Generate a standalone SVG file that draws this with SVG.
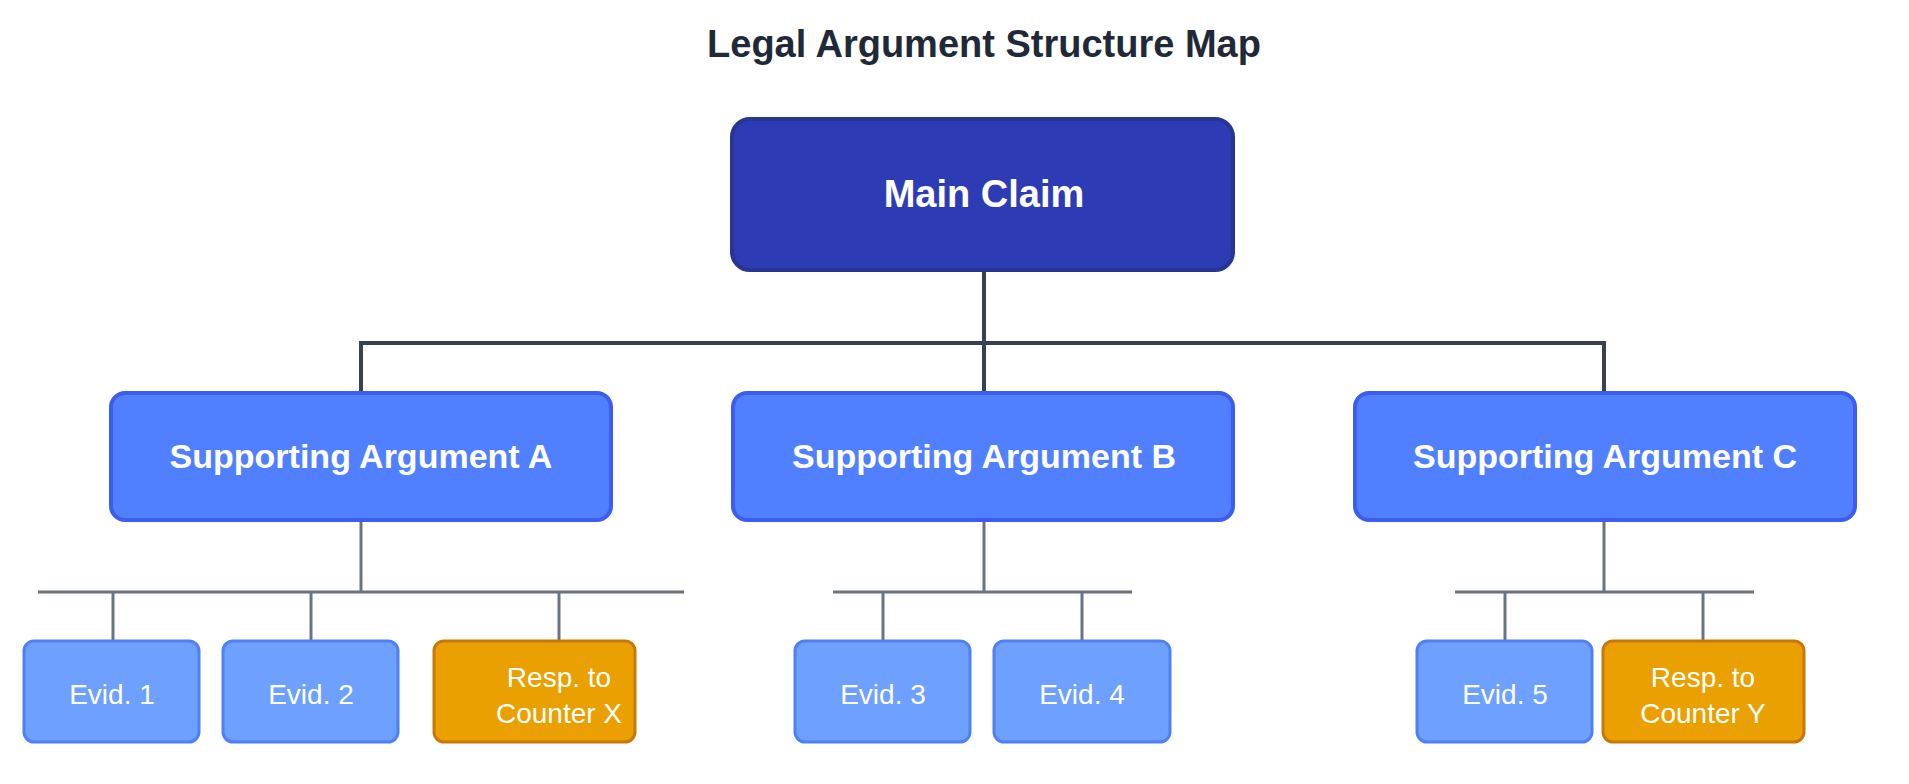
<svg xmlns="http://www.w3.org/2000/svg" width="1909" height="784" viewBox="0 0 1909 784">
<style>
text{font-family:"Liberation Sans",Arial,sans-serif;text-anchor:middle;dominant-baseline:central}
.title{font-size:38px;font-weight:bold;fill:#1f2937}
.main rect{fill:#2d3bb5;stroke:#283593;stroke-width:4}
.main text{font-size:38px;font-weight:bold;fill:#fff}
.sup rect{fill:#5080ff;stroke:#3d5df0;stroke-width:4}
.sup text{font-size:34px;font-weight:bold;fill:#fff}
.ev rect{fill:#6ea0ff;stroke:#4f80f5;stroke-width:3}
.ev text{font-size:28px;fill:#fff}
.rs rect{fill:#eaa000;stroke:#c8780a;stroke-width:3}
.rs text{font-size:28px;fill:#fff}
.c1{stroke:#374151;stroke-width:4;fill:none}
.c2{stroke:#6b7280;stroke-width:3;fill:none}
</style>
<rect width="1909" height="784" fill="#fff"/>
<text class="title" x="984" y="44">Legal Argument Structure Map</text>
<g id="connectors">
<path class="c1" d="M984 270V393M361 393V343H1604V393"/>
<path class="c2" d="M361 520V592M38 592H684M113 592V641M311 592V641M559 592V641"/>
<path class="c2" d="M984 520V592M833 592H1132M883 592V641M1082 592V641"/>
<path class="c2" d="M1604 520V592M1455 592H1754M1505 592V641M1703 592V641"/>
</g>
<g id="main" class="main"><rect x="732" y="119" width="501" height="151" rx="18"/><text x="984" y="194">Main Claim</text></g>
<g id="supA" class="sup"><rect x="111" y="393" width="500" height="127" rx="14"/><text x="361" y="456">Supporting Argument A</text></g>
<g id="supB" class="sup"><rect x="733" y="393" width="500" height="127" rx="14"/><text x="984" y="456">Supporting Argument B</text></g>
<g id="supC" class="sup"><rect x="1355" y="393" width="500" height="127" rx="14"/><text x="1605" y="456">Supporting Argument C</text></g>
<g id="ev1" class="ev"><rect x="24" y="641" width="175" height="101" rx="10"/><text x="112" y="694">Evid. 1</text></g>
<g id="ev2" class="ev"><rect x="223" y="641" width="175" height="101" rx="10"/><text x="311" y="694">Evid. 2</text></g>
<g id="respX" class="rs"><rect x="434" y="641" width="201" height="101" rx="10"/><text x="559" y="677">Resp. to</text><text x="559" y="713">Counter X</text></g>
<g id="ev3" class="ev"><rect x="795" y="641" width="175" height="101" rx="10"/><text x="883" y="694">Evid. 3</text></g>
<g id="ev4" class="ev"><rect x="994" y="641" width="176" height="101" rx="10"/><text x="1082" y="694">Evid. 4</text></g>
<g id="ev5" class="ev"><rect x="1417" y="641" width="175" height="101" rx="10"/><text x="1505" y="694">Evid. 5</text></g>
<g id="respY" class="rs"><rect x="1603" y="641" width="201" height="101" rx="10"/><text x="1703" y="677">Resp. to</text><text x="1703" y="713">Counter Y</text></g>
</svg>
